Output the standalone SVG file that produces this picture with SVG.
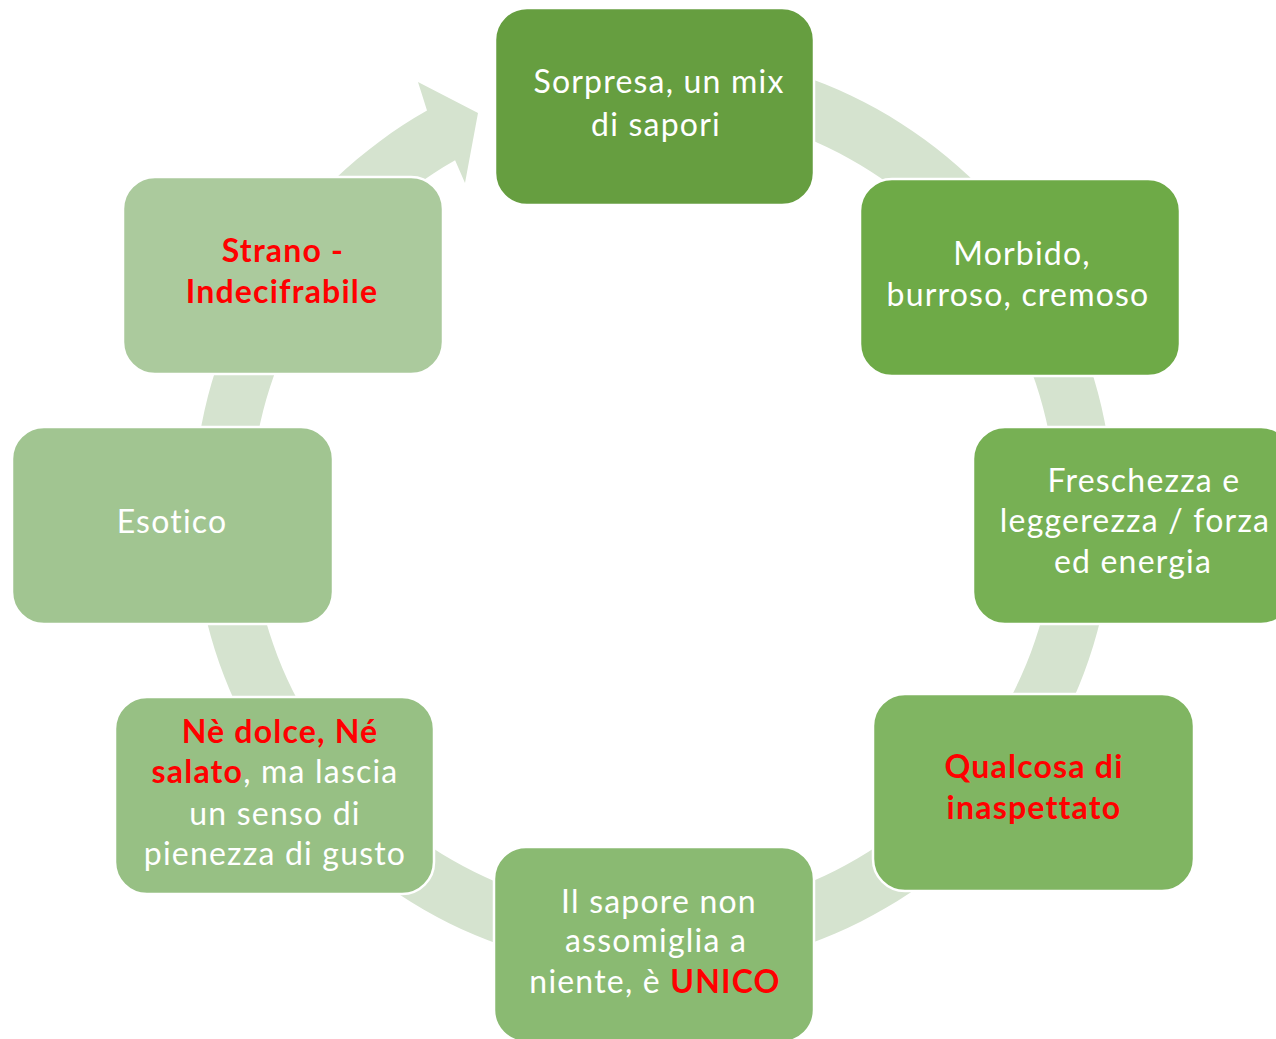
<svg xmlns="http://www.w3.org/2000/svg" width="1276" height="1039" viewBox="0 0 1276 1039">
<style>
.node{stroke:#fff;stroke-width:2.5}
.t{font-family:Lato,"Open Sans","Liberation Sans",sans-serif;font-size:32px;letter-spacing:1.2px;fill:#fff;text-anchor:middle}
.r{fill:#ff0000;font-weight:bold}
.ring{fill:#d5e3cf}
</style>
<rect width="1276" height="1039" fill="#fff"/>
<g id="connectors">
<path class="ring" d="M 573.6 58 A 460 460 0 1 1 427 110.6 L 418 82 L 478 113 L 465 183 L 455.1 160.2 A 403 403 0 1 0 583.5 114.1 Z"/>
</g>
<g id="n1"><rect class="node" x="495" y="8" width="319" height="197" rx="32" fill="#669e40"/>
<text class="t" x="659" y="93">Sorpresa, un mix</text><text class="t" x="656" y="136">di sapori</text></g>
<g id="n2"><rect class="node" x="860" y="179" width="320" height="197" rx="32" fill="#6eaa47"/>
<text class="t" x="1022" y="265">Morbido,</text><text class="t" x="1018" y="306">burroso, cremoso</text></g>
<g id="n3"><rect class="node" x="973" y="427" width="320" height="197" rx="32" fill="#77b054"/>
<text class="t" x="1144" y="492">Freschezza e</text><text class="t" x="1135" y="532">leggerezza / forza</text><text class="t" x="1133" y="573">ed energia</text></g>
<g id="n4"><rect class="node" x="873" y="694" width="321" height="197" rx="32" fill="#80b562"/>
<text class="t r" x="1034" y="778">Qualcosa di</text><text class="t r" x="1034" y="819">inaspettato</text></g>
<g id="n5"><rect class="node" x="494" y="847" width="320" height="195" rx="32" fill="#8aba72"/>
<text class="t" x="659" y="913">Il sapore non</text><text class="t" x="656" y="952">assomiglia a</text><text class="t" x="655" y="993">niente, è <tspan class="r">UNICO</tspan></text></g>
<g id="n6"><rect class="node" x="115" y="697" width="319" height="197" rx="32" fill="#97c084"/>
<text class="t r" x="280" y="743">Nè dolce, Né</text><text class="t" x="275" y="783"><tspan class="r">salato</tspan>, ma lascia</text><text class="t" x="275" y="825">un senso di</text><text class="t" x="275" y="865">pienezza di gusto</text></g>
<g id="n7"><rect class="node" x="12" y="427" width="321" height="197" rx="32" fill="#a1c591"/>
<text class="t" x="172" y="533">Esotico</text></g>
<g id="n8"><rect class="node" x="123" y="177" width="320" height="197" rx="32" fill="#abca9d"/>
<text class="t r" x="283" y="262">Strano -</text><text class="t r" x="282" y="303">Indecifrabile</text></g>
</svg>
